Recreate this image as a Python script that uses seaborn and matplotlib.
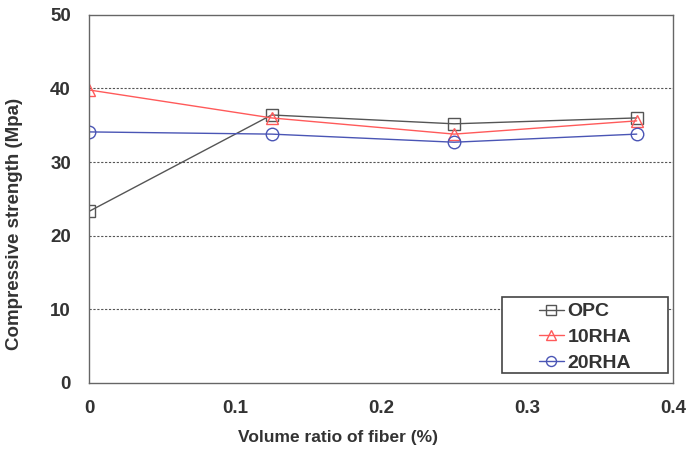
import matplotlib
matplotlib.use("Agg")
import matplotlib.pyplot as plt
from matplotlib.patches import Rectangle
import seaborn as sns
import pandas as pd

fiber_ratio = [0, 0.125, 0.25, 0.375]
opc = [23.3, 36.4, 35.2, 36.0]
rha10 = [39.8, 36.0, 33.8, 35.6]
rha20 = [34.1, 33.8, 32.7, 33.8]

series_names = ["OPC", "10RHA", "20RHA"]
series_values = [opc, rha10, rha20]
colors = ["#555555", "#ff5a5a", "#4a55b5"]
markers = ["s", "^", "o"]

sns.set_style("white")
plt.rcParams["font.family"] = ["Liberation Sans", "DejaVu Sans"]

fig = plt.figure(figsize=(6.87, 4.5), dpi=100)
ax = fig.add_axes([0.1295, 0.149, 0.8505, 0.818])

for name, vals, c, m in zip(series_names, series_values, colors, markers):
    df = pd.DataFrame({"x": fiber_ratio, "y": vals})
    sns.lineplot(data=df, x="x", y="y", ax=ax, color=c, marker=m,
                 markersize=9, markerfacecolor="none", markeredgecolor=c,
                 markeredgewidth=1.0, linewidth=1.0, label=name)

ax.set_xlim(0, 0.4)
ax.set_ylim(0, 50)
ax.set_xticks([0, 0.1, 0.2, 0.3, 0.4])
ax.set_xticklabels(["0", "0.1", "0.2", "0.3", "0.4"])
ax.set_yticks([0, 10, 20, 30, 40, 50])

for yv in [10, 20, 30, 40]:
    ax.axhline(yv, color="#555555", linestyle=(0, (2, 1.5)), linewidth=0.8, zorder=0)

ax.tick_params(direction="in", length=5, color="#666666", labelsize=13.5,
               labelcolor="#333333")
ax.tick_params(axis="y", pad=13)
ax.tick_params(axis="x", pad=12)
for lab in ax.get_xticklabels() + ax.get_yticklabels():
    lab.set_fontweight("bold")
for s in ax.spines.values():
    s.set_color("#666666")
    s.set_linewidth(1.0)

ax.set_xlabel("Volume ratio of fiber (%)", fontsize=12.5, fontweight="bold",
              color="#333333")
ax.set_ylabel("Compressive strength (Mpa)", fontsize=13.5, fontweight="bold",
              color="#333333")
ax.xaxis.set_label_coords(0.426, -0.149)
ax.yaxis.set_label_coords(-0.128, 0.432)
ax.xaxis.label.set_va("center")
ax.yaxis.label.set_va("center")

# legend frame drawn separately so the entries sit centred in a wider box
ax.add_patch(Rectangle((0.707, 0.027), 0.284, 0.207, transform=ax.transAxes,
                       facecolor="white", edgecolor="#444444", linewidth=1.2,
                       zorder=5))
leg = ax.legend(loc="center", bbox_to_anchor=(0.849, 0.124), frameon=False,
                fontsize=14, handlelength=1.3, handletextpad=0.2,
                borderpad=0.1, labelspacing=0.42, markerscale=0.8)
leg.set_zorder(6)
for t in leg.get_texts():
    t.set_fontweight("bold")
    t.set_color("#333333")

fig.savefig("out.png", dpi=100, facecolor="white")
